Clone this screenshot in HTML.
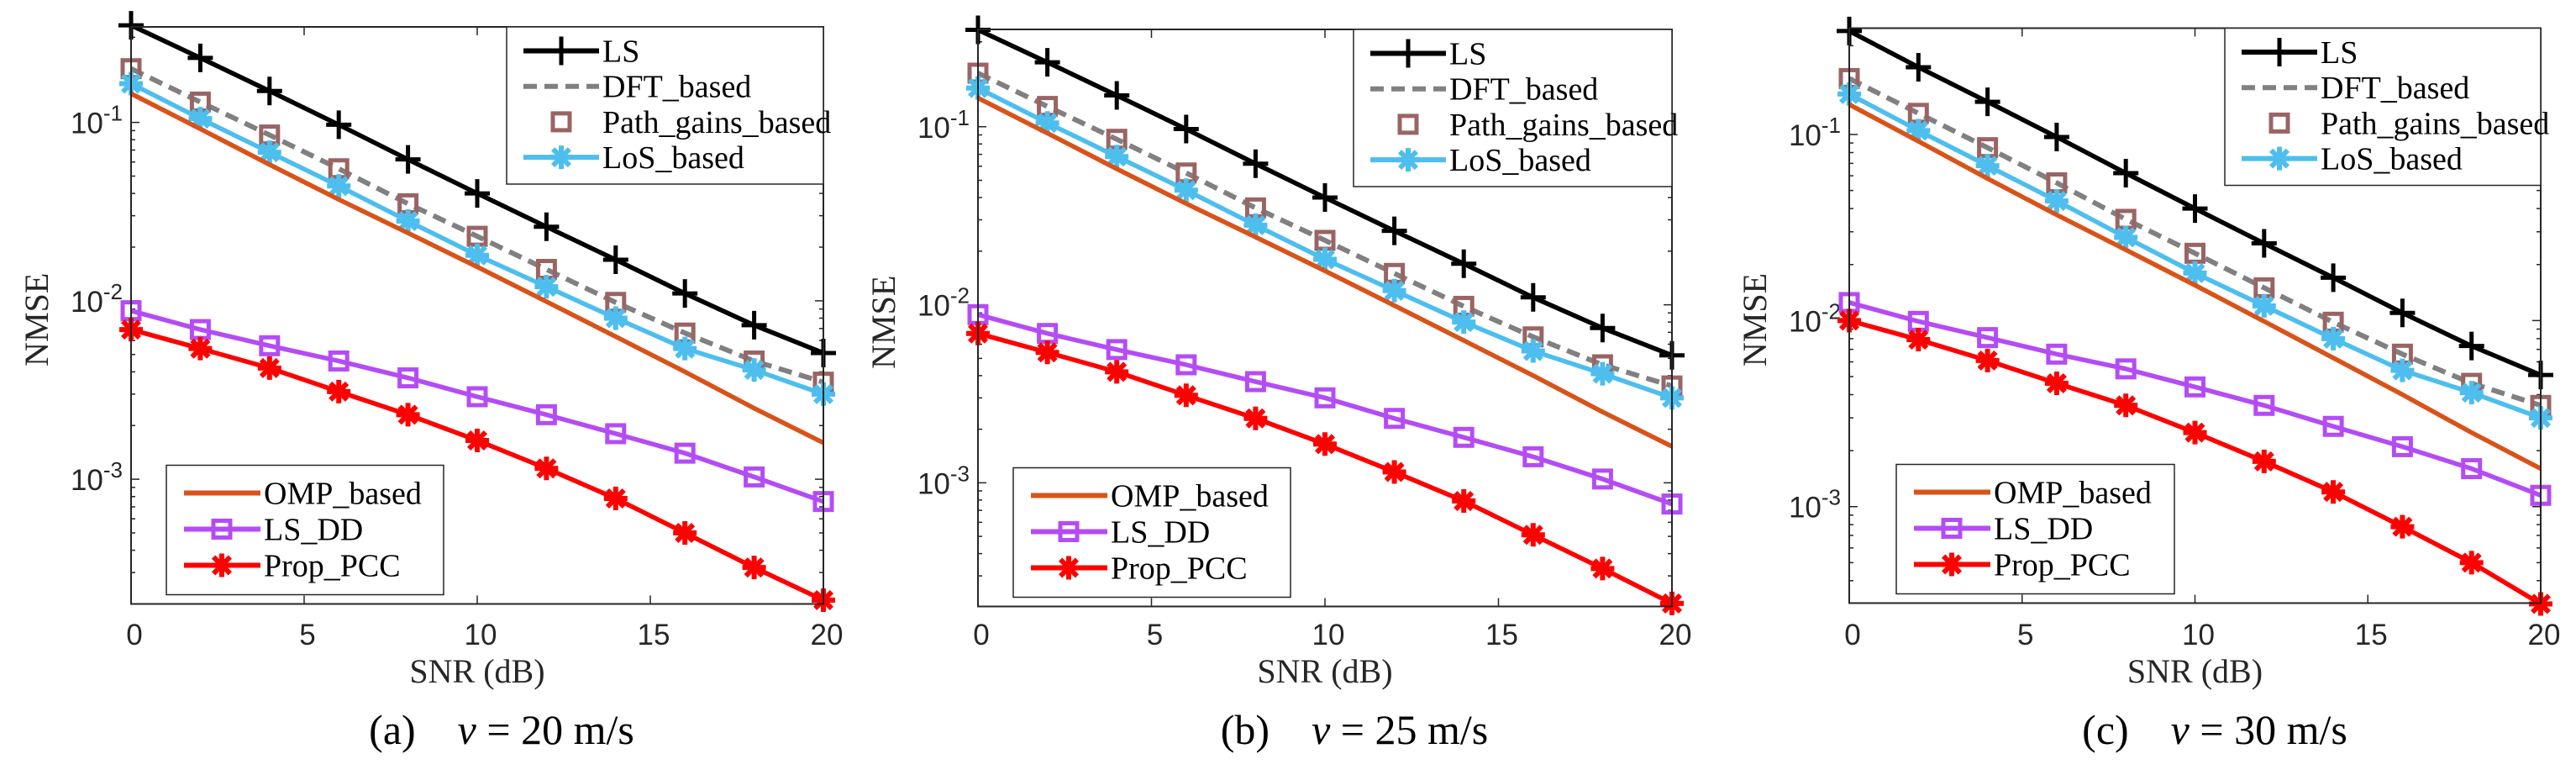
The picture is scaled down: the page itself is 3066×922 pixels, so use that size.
<!DOCTYPE html>
<html><head><meta charset="utf-8"><style>
html,body{margin:0;padding:0;background:#fff}
svg{display:block}
</style></head><body>
<svg id="fig" width="3066" height="922" viewBox="0 0 3066 922" xmlns="http://www.w3.org/2000/svg"></svg>
<script>
const snr = [0,2,4,6,8,10,12,14,16,18,20];
const xTicks = [0,5,10,15,20];
const yTickExps = [-1,-2,-3];
const seriesNames = ["LS","DFT_based","Path_gains_based","LoS_based","OMP_based","LS_DD","Prop_PCC"];
const captions = ["(a)","(b)","(c)"];
const speeds = ["20","25","30"];
// panel a
const lsA   = [0.35,0.23,0.15,0.097,0.062,0.040,0.026,0.017,0.011,0.0073,0.0051];
const dftA  = [0.20,0.13,0.085,0.055,0.035,0.023,0.015,0.0098,0.0066,0.0046,0.0035];
const pgA   = [0.20,0.13,0.085,0.055,0.035,0.023,0.015,0.0098,0.0066,0.0046,0.0035];
const losA  = [0.165,0.105,0.068,0.044,0.028,0.018,0.012,0.008,0.0054,0.0041,0.0030];
const ompA  = [0.145,0.092,0.058,0.037,0.024,0.0155,0.0099,0.0063,0.004,0.0025,0.0016];
const lsddA = [0.0088,0.0069,0.0056,0.0046,0.0037,0.0029,0.0023,0.0018,0.0014,0.00103,0.00075];
const propA = [0.0069,0.0054,0.0042,0.0031,0.0023,0.00165,0.00115,0.00078,0.0005,0.00032,0.00021];
// panel b
const lsB   = [0.35,0.23,0.15,0.097,0.062,0.040,0.026,0.017,0.011,0.0074,0.0052];
const dftB  = [0.20,0.13,0.085,0.055,0.035,0.023,0.015,0.0098,0.0066,0.0046,0.0035];
const pgB   = [0.20,0.13,0.085,0.055,0.035,0.023,0.015,0.0098,0.0066,0.0046,0.0035];
const losB  = [0.165,0.105,0.068,0.044,0.028,0.018,0.012,0.008,0.0055,0.0041,0.0030];
const ompB  = [0.145,0.092,0.058,0.037,0.024,0.0155,0.0099,0.0063,0.004,0.0025,0.0016];
const lsddB = [0.0088,0.0069,0.0056,0.0046,0.0037,0.0030,0.0023,0.0018,0.0014,0.00105,0.00076];
const propB = [0.0069,0.0054,0.0042,0.0031,0.0023,0.00165,0.00115,0.00079,0.00051,0.00033,0.00021];
// panel c
const lsC   = [0.36,0.23,0.15,0.097,0.062,0.040,0.026,0.017,0.011,0.0073,0.0051];
const dftC  = [0.20,0.13,0.085,0.055,0.035,0.023,0.015,0.0098,0.0066,0.0046,0.0035];
const pgC   = [0.20,0.13,0.085,0.055,0.035,0.023,0.015,0.0098,0.0066,0.0046,0.0035];
const losC  = [0.165,0.105,0.068,0.044,0.028,0.018,0.012,0.008,0.0054,0.0041,0.0030];
const ompC  = [0.145,0.092,0.058,0.037,0.024,0.0155,0.0099,0.0063,0.004,0.0025,0.0016];
const lsddC = [0.0125,0.0099,0.0081,0.0066,0.0055,0.0044,0.0035,0.0027,0.0021,0.0016,0.00115];
const propC = [0.0100,0.0079,0.0061,0.0046,0.0035,0.0025,0.00175,0.0012,0.00078,0.0005,0.0003];

const panelData = [
  [lsA,dftA,pgA,losA,ompA,lsddA,propA],
  [lsB,dftB,pgB,losB,ompB,lsddB,propB],
  [lsC,dftC,pgC,losC,ompC,lsddC,propC]
];
const boxes = [
  {l:156,r:980,t:32,b:718.5,ymin:2.0e-4,ymax:0.343,cap:597},
  {l:1164,r:1990,t:35,b:721.5,ymin:2.02e-4,ymax:0.352,cap:1612},
  {l:2201,r:3024,t:33.5,b:717.5,ymin:3.03e-4,ymax:0.373,cap:2636}
];
const styles = [
  {c:"#000000",dash:null,line:true,m:"plus"},
  {c:"#808080",dash:"16,9",line:true,m:null},
  {c:"#9a6464",dash:null,line:false,m:"square"},
  {c:"#4dbeee",dash:null,line:true,m:"star"},
  {c:"#d95319",dash:null,line:true,m:null},
  {c:"#b44cf5",dash:null,line:true,m:"square"},
  {c:"#ff0000",dash:null,line:true,m:"star"}
];
const NS="http://www.w3.org/2000/svg";
const svg=document.getElementById("fig");
function mk(tag,attrs,parent){const e=document.createElementNS(NS,tag);for(const k in attrs)e.setAttribute(k,attrs[k]);(parent||svg).appendChild(e);return e;}
function marker(g,type,x,y,c){
  if(type==="plus"){
    const m=mk("path",{d:`M${x-15},${y}H${x+15}M${x},${y-17}V${y+17}`,stroke:c,"stroke-width":5,fill:"none"},g);
    
    
  } else if(type==="square"){
    const m=mk("rect",{x:x-10,y:y-10,width:20,height:20,stroke:c,"stroke-width":5,fill:"none"},g);
    
    
  } else if(type==="star"){
    let d="";for(let a=0;a<4;a++){const an=a*Math.PI/4;const dx=14*Math.sin(an),dy=14*Math.cos(an);d+=`M${x-dx},${y-dy}L${x+dx},${y+dy}`;}
    const m=mk("path",{d:d,stroke:c,"stroke-width":6,fill:"none"},g);
    
    
  }
}
boxes.forEach((B,pi)=>{
  const g=mk("g",{});
  
  
  const xs=v=>B.l+(v-0)/20*(B.r-B.l);
  const ys=v=>B.b-(Math.log10(v)-Math.log10(B.ymin))/(Math.log10(B.ymax)-Math.log10(B.ymin))*(B.b-B.t);
  const tk=mk("g",{stroke:"#262626","stroke-width":1.5},g);
  
  
  xTicks.forEach(v=>{const x=xs(v);mk("path",{d:`M${x},${B.b}V${B.b-10}M${x},${B.t}V${B.t+10}`},tk);
    const t=mk("text",{x:x+4,y:767,"font-family":"Liberation Sans, sans-serif","font-size":35,fill:"#262626","text-anchor":"middle"},g);
    t.textContent=v;
    
    
  });
  for(let e=-4;e<=0;e++){for(let k=1;k<10;k++){const v=k*Math.pow(10,e);if(v<B.ymin||v>B.ymax)continue;const y=ys(v);const L=k===1?10:5;
    mk("path",{d:`M${B.l},${y}H${B.l+L}M${B.r},${y}H${B.r-L}`},tk);}}
  yTickExps.forEach(e=>{const y=ys(Math.pow(10,e));
    const t=mk("text",{x:B.l-10,y:y+13,"font-family":"Liberation Sans, sans-serif","font-size":35,fill:"#262626","text-anchor":"end"},g);
    const s1=mk("tspan",{},t);s1.textContent="10";
    const s2=mk("tspan",{dy:-15,"font-size":26},t);s2.textContent=String(e);
    
    
  });
  panelData[pi].forEach((arr,si)=>{
    const st=styles[si];
    const sg=mk("g",{},g);
    
    
    if(st.line){
      const p=mk("polyline",{points:arr.map((v,i)=>xs(snr[i])+","+ys(v)).join(" "),stroke:st.c,"stroke-width":st.c==="#808080"?6:5.5,fill:"none","stroke-linejoin":"round"},sg);
      if(st.dash)p.setAttribute("stroke-dasharray",st.dash);
    }
    if(st.m)arr.forEach((v,i)=>marker(sg,st.m,xs(snr[i]),ys(v),st.c));
  });
  const fr=mk("rect",{x:B.l,y:B.t,width:B.r-B.l,height:B.b-B.t,fill:"none",stroke:"#262626","stroke-width":2},g);
  
  
  const lg1=mk("g",{},g);
  
  
  const ulx=B.l+447;
  mk("rect",{x:ulx,y:B.t,width:B.r-ulx,height:187,fill:"#fff",stroke:"#262626","stroke-width":1.5},lg1);
  for(let si=0;si<4;si++){
    const y=B.t+28.5+si*42.2;const st=styles[si];
    const e=mk("g",{},lg1);
    
    
    if(st.line){const p=mk("line",{x1:ulx+20,x2:ulx+110,y1:y,y2:y,stroke:st.c,"stroke-width":6},e);if(st.dash)p.setAttribute("stroke-dasharray","16,9");}
    if(st.m)marker(e,st.m,ulx+65,y,st.c);
    const t=mk("text",{x:ulx+114,y:y+13,"font-family":"Liberation Serif, serif","font-size":38,fill:"#000"},e);
    t.textContent=seriesNames[si];
  }
  const lg2=mk("g",{},g);
  
  
  const llx=B.l+(pi===2?56:42), lly=B.b-165, lw=pi===2?331:330;
  mk("rect",{x:llx,y:lly,width:lw,height:154,fill:"#fff",stroke:"#262626","stroke-width":1.5},lg2);
  for(let si=4;si<7;si++){
    const y=lly+33+(si-4)*43;const st=styles[si];
    const e=mk("g",{},lg2);
    
    
    mk("line",{x1:llx+21,x2:llx+112,y1:y,y2:y,stroke:st.c,"stroke-width":6},e);
    if(st.m)marker(e,st.m,llx+66,y,st.c);
    const t=mk("text",{x:llx+116,y:y+13,"font-family":"Liberation Serif, serif","font-size":38,fill:"#000"},e);
    t.textContent=seriesNames[si];
  }
  const xl=mk("text",{x:(B.l+B.r)/2,y:812,"font-family":"Liberation Serif, serif","font-size":40,fill:"#262626","text-anchor":"middle"},g);
  xl.textContent="SNR (dB)";
  
  
  const yl=mk("text",{x:0,y:0,transform:`translate(${B.l-99},${(B.t+B.b)/2+5}) rotate(-90)`,"font-family":"Liberation Serif, serif","font-size":40,fill:"#262626","text-anchor":"middle"},g);
  yl.textContent="NMSE";
  
  
  const cp=mk("text",{x:B.cap,y:885,"font-family":"Liberation Serif, serif","font-size":50,fill:"#000","text-anchor":"middle"},g);
  const a=mk("tspan",{},cp);a.textContent=captions[pi]+"\u2003";
  const v=mk("tspan",{"font-style":"italic"},cp);v.textContent="v";
  const r=mk("tspan",{},cp);r.textContent=" = "+speeds[pi]+" m/s";
  
  
});
</script>
</body></html>
